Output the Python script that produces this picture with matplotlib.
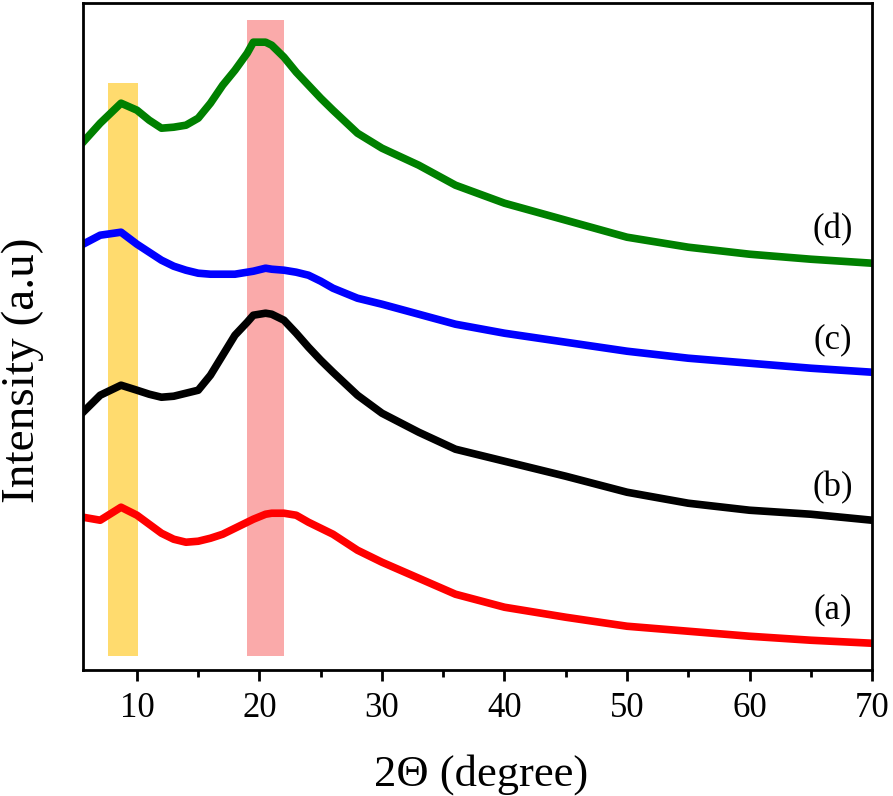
import numpy as np
import matplotlib.pyplot as plt

# 2theta sample positions (degree)
two_theta = [5.6, 7, 8.7, 10, 11, 12, 13, 14, 15, 16, 17, 18, 19, 19.5, 20.5, 21, 22, 23, 24,
             25, 26, 28, 30, 33, 36, 40, 45, 50, 55, 60, 65, 70]

# intensities (a.u.)
sample_a = [153, 150, 163, 155, 146, 137, 131, 128, 129, 132, 136, 142, 148, 151, 156, 157, 157, 155, 148,
            142, 136, 120, 108, 92, 76, 63, 53, 44, 39, 34, 30, 27]
sample_b = [258, 275, 285, 280, 276, 273, 274, 277, 280, 295, 315, 335, 348, 355, 357, 356, 350, 337, 323,
            310, 298, 275, 257, 238, 221, 209, 194, 178, 167, 160, 156, 150]
sample_c = [426, 435, 438, 426, 418, 410, 404, 400, 397, 396, 396, 396, 398, 399, 402, 401, 400, 398, 395,
            389, 382, 372, 366, 356, 346, 337, 328, 319, 312, 307, 302, 298]
sample_d = [528, 547, 567, 560, 550, 542, 543, 545, 552, 567, 585, 600, 617, 628, 628, 625, 613, 598, 585,
            572, 560, 537, 522, 505, 485, 467, 450, 433, 423, 416, 411, 407]

series = [sample_a, sample_b, sample_c, sample_d]
colors = ['#ff0000', '#000000', '#0000ff', '#008000']
labels = ['(a)', '(b)', '(c)', '(d)']
label_y = [60, 183, 330, 440]

# highlighted 2theta regions
bands = [(7.6, 10.1), (19.0, 22.0)]
band_colors = ['#ffdb6e', '#faaaaa']
band_tops = [587, 650]

plt.rcParams['font.family'] = ['Liberation Serif', 'DejaVu Serif']

fig = plt.figure(figsize=(8.93, 7.96), dpi=100)
ax = fig.add_axes([0.093, 0.158, 0.8835, 0.838])

for (x0, x1), c, top in zip(bands, band_colors, band_tops):
    ax.fill_between([x0, x1], 14, top, color=c, linewidth=0, zorder=1)

for y, c in zip(series, colors):
    ax.plot(two_theta, y, color=c, linewidth=5.5, solid_joinstyle='round', zorder=2)

for lab, y in zip(labels, label_y):
    ax.text(66.8, y, lab, fontsize=25, ha='center', va='center')

ax.set_xlim(5.6, 70)
ax.set_ylim(0, 667)
ax.set_xticks([10, 20, 30, 40, 50, 60, 70])
ax.set_xticks([15, 25, 35, 45, 55, 65], minor=True)
ax.set_yticks([])
ax.tick_params(axis='x', which='major', direction='out', length=8, width=2, labelsize=25, pad=8)
ax.tick_params(axis='x', which='minor', direction='out', length=5, width=2)
for s in ax.spines.values():
    s.set_linewidth(2)

ax.set_xlabel('2Θ (degree)', fontsize=32)
ax.set_ylabel('Intensity (a.u)', fontsize=34)
ax.xaxis.set_label_coords(0.504, -0.125)
ax.yaxis.set_label_coords(-0.05, 0.45)

plt.savefig('out.png', dpi=100)
